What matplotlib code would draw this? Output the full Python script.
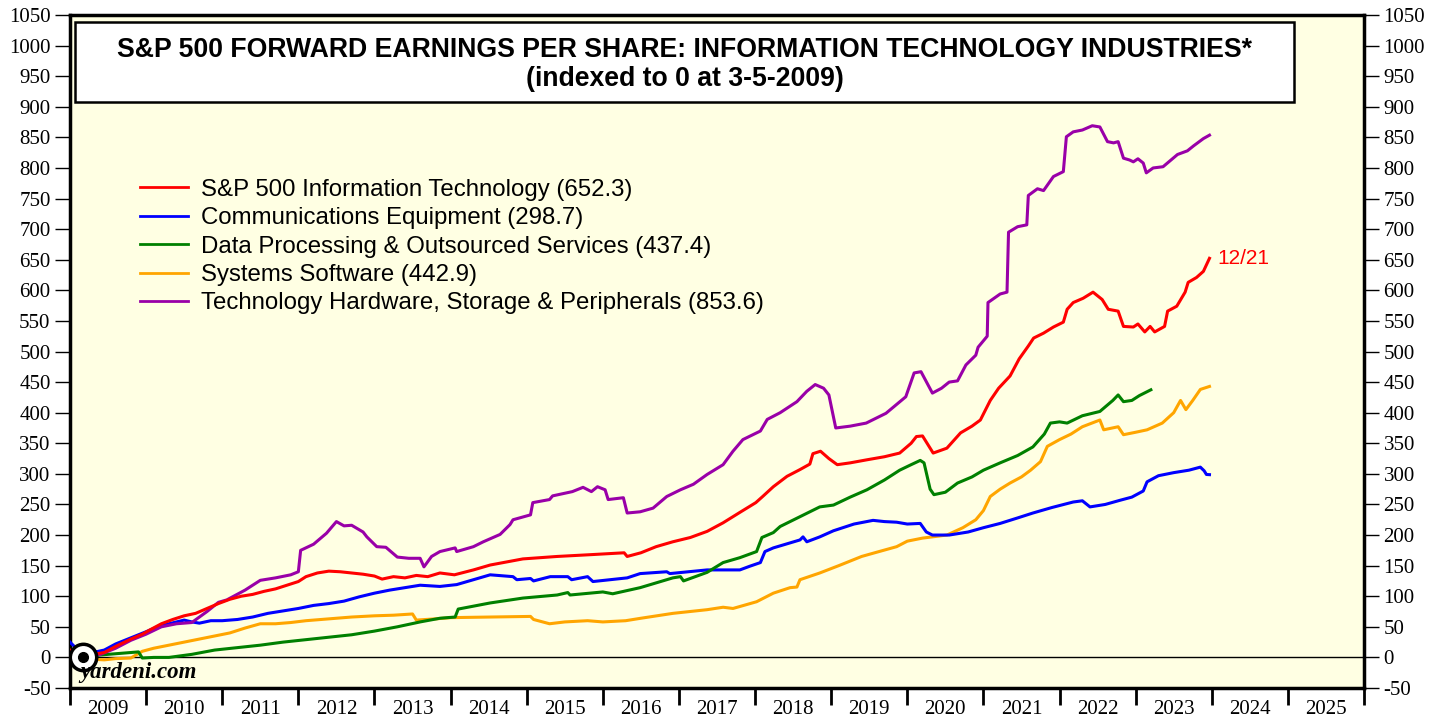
import numpy as np
import matplotlib.pyplot as plt
from matplotlib.patches import Rectangle
from matplotlib.ticker import MultipleLocator, NullFormatter, FixedLocator, FixedFormatter

# data (decimal years, index points)
it_x = [2009.00, 2009.08, 2009.17, 2009.30, 2009.45, 2009.60, 2009.80, 2009.95, 2010.05, 2010.20,
        2010.35, 2010.50, 2010.65, 2010.80, 2010.95, 2011.10, 2011.25, 2011.40, 2011.55, 2011.70,
        2011.85, 2012.00, 2012.10, 2012.25, 2012.40, 2012.55, 2012.70, 2012.85, 2013.00, 2013.10,
        2013.25, 2013.40, 2013.55, 2013.70, 2013.86, 2014.05, 2014.30, 2014.52, 2014.95, 2015.40,
        2015.85, 2016.28, 2016.32, 2016.50, 2016.70, 2016.92, 2017.15, 2017.37, 2017.58, 2017.80,
        2018.01, 2018.10, 2018.24, 2018.42, 2018.59, 2018.72, 2018.76, 2018.86, 2018.97, 2019.08,
        2019.25, 2019.47, 2019.70, 2019.90, 2020.05, 2020.12, 2020.20, 2020.34, 2020.52, 2020.70,
        2020.85, 2020.96, 2021.09, 2021.20, 2021.35, 2021.47, 2021.59, 2021.66, 2021.79, 2021.92,
        2022.05, 2022.10, 2022.18, 2022.31, 2022.44, 2022.56, 2022.64, 2022.77, 2022.84, 2022.97,
        2023.03, 2023.12, 2023.19, 2023.25, 2023.38, 2023.42, 2023.54, 2023.65, 2023.69, 2023.80,
        2023.89, 2023.97]
it_y = [12, 4, 0, 5, 8, 18, 30, 38, 45, 55,
        62, 68, 72, 80, 88, 95, 100, 103, 108, 112,
        118, 124, 132, 138, 141, 140, 138, 136, 133, 128,
        132, 130, 134, 132, 138, 135, 143, 151, 161, 165,
        168, 171, 165, 171, 181, 189, 196, 206, 220, 237,
        253, 263, 279, 296, 307, 316, 333, 337, 325, 315,
        318, 323, 328, 334, 350, 361, 362, 334, 342, 367,
        378, 388, 420, 440, 460, 488, 509, 522, 530, 540,
        548, 569, 580, 587, 597, 585, 569, 566, 541, 540,
        545, 532, 541, 532, 541, 566, 574, 597, 613, 621,
        631, 652.3]

ce_x = [2009.00, 2009.08, 2009.17, 2009.30, 2009.45, 2009.60, 2009.80, 2010.00, 2010.15, 2010.30,
        2010.50, 2010.60, 2010.70, 2010.85, 2011.00, 2011.20, 2011.40, 2011.60, 2011.80, 2012.00,
        2012.20, 2012.40, 2012.60, 2012.80, 2013.00, 2013.20, 2013.40, 2013.60, 2013.86, 2014.08,
        2014.30, 2014.52, 2014.82, 2014.87, 2015.05, 2015.09, 2015.31, 2015.54, 2015.59, 2015.80,
        2015.87, 2016.32, 2016.49, 2016.84, 2016.88, 2017.37, 2017.80, 2017.93, 2018.07, 2018.13,
        2018.24, 2018.59, 2018.63, 2018.68, 2018.85, 2019.03, 2019.30, 2019.55, 2019.70, 2019.86,
        2020.00, 2020.17, 2020.25, 2020.33, 2020.55, 2020.80, 2021.00, 2021.22, 2021.45, 2021.65,
        2021.90, 2022.18, 2022.30, 2022.40, 2022.60, 2022.80, 2022.95, 2023.10, 2023.15, 2023.30,
        2023.50, 2023.70, 2023.85, 2023.90, 2023.93, 2023.97]
ce_y = [25, 15, 0, 8, 12, 22, 32, 42, 50, 55,
        61, 58, 56, 60, 60, 62, 66, 72, 76, 80,
        85, 88, 92, 99, 105, 110, 114, 118, 116, 119,
        127, 135, 132, 127, 129, 125, 132, 132, 127, 132,
        124, 130, 137, 140, 137, 143, 143, 149, 155, 173,
        179, 192, 197, 189, 197, 207, 218, 224, 222, 221,
        218, 219, 205, 200, 200, 205, 212, 219, 228, 236,
        245, 254, 256, 246, 250, 257, 262, 272, 287, 297,
        302, 306, 311, 305, 299, 298.7]

dp_x = [2009.00, 2009.17, 2009.40, 2009.70, 2009.90, 2009.95, 2010.10, 2010.30, 2010.60, 2010.90,
        2011.20, 2011.50, 2011.80, 2012.10, 2012.40, 2012.70, 2013.00, 2013.30, 2013.60, 2013.86,
        2014.06, 2014.10, 2014.52, 2014.95, 2015.40, 2015.54, 2015.57, 2016.00, 2016.13, 2016.49,
        2016.92, 2017.02, 2017.06, 2017.37, 2017.58, 2017.80, 2018.02, 2018.09, 2018.24, 2018.33,
        2018.46, 2018.59, 2018.85, 2019.03, 2019.25, 2019.47, 2019.70, 2019.90, 2020.05, 2020.17,
        2020.22, 2020.30, 2020.35, 2020.50, 2020.66, 2020.85, 2021.00, 2021.22, 2021.45, 2021.65,
        2021.80, 2021.88, 2022.00, 2022.10, 2022.30, 2022.53, 2022.70, 2022.77, 2022.84, 2022.95,
        2023.05, 2023.20]
dp_y = [0, 0, 4, 7, 9, -1, 0, 0, 5, 12,
        16, 20, 25, 29, 33, 37, 43, 50, 58, 64,
        66, 79, 89, 97, 102, 106, 102, 107, 104, 114,
        130, 132, 125, 139, 155, 163, 173, 196, 204, 214,
        222, 230, 246, 249, 262, 274, 290, 306, 315, 322,
        318, 275, 266, 270, 285, 295, 306, 318, 330, 344,
        365, 383, 385, 383, 395, 402, 420, 429, 418, 420,
        428, 437.4]

ss_x = [2009.00, 2009.17, 2009.30, 2009.45, 2009.60, 2009.80, 2009.95, 2010.10, 2010.30, 2010.50,
        2010.70, 2010.90, 2011.10, 2011.30, 2011.50, 2011.70, 2011.90, 2012.10, 2012.40, 2012.70,
        2013.00, 2013.25, 2013.50, 2013.55, 2013.80, 2014.00, 2014.52, 2015.05, 2015.09, 2015.30,
        2015.50, 2015.80, 2016.00, 2016.30, 2016.50, 2016.92, 2017.37, 2017.58, 2017.71, 2018.02,
        2018.24, 2018.46, 2018.55, 2018.59, 2018.85, 2019.10, 2019.40, 2019.60, 2019.86, 2020.00,
        2020.20, 2020.52, 2020.73, 2020.90, 2021.00, 2021.09, 2021.22, 2021.35, 2021.50, 2021.62,
        2021.75, 2021.84, 2022.00, 2022.15, 2022.30, 2022.53, 2022.58, 2022.77, 2022.84, 2023.00,
        2023.15, 2023.35, 2023.50, 2023.59, 2023.66, 2023.75, 2023.85, 2023.97]
ss_y = [0, 0, -3, -4, -2, -1, 10, 15, 20, 25,
        30, 35, 40, 48, 55, 55, 57, 60, 63, 66,
        68, 69, 71, 61, 63, 65, 66, 67, 62, 55,
        58, 60, 58, 60, 64, 72, 78, 82, 80, 91,
        105, 114, 115, 127, 138, 150, 165, 172, 181, 190,
        195, 200, 212, 225, 240, 263, 275, 285, 295, 306,
        320, 345, 356, 365, 377, 388, 372, 377, 364, 368,
        372, 383, 400, 420, 405, 420, 438, 442.9]

hw_x = [2009.00, 2009.17, 2009.40, 2009.60, 2009.80, 2010.00, 2010.20, 2010.40, 2010.60, 2010.80,
        2010.95, 2011.06, 2011.30, 2011.50, 2011.70, 2011.90, 2012.00, 2012.03, 2012.20, 2012.37,
        2012.50, 2012.60, 2012.70, 2012.85, 2012.90, 2013.03, 2013.15, 2013.30, 2013.45, 2013.60,
        2013.65, 2013.75, 2013.86, 2014.06, 2014.08, 2014.30, 2014.43, 2014.65, 2014.78, 2014.82,
        2015.05, 2015.08, 2015.30, 2015.34, 2015.60, 2015.74, 2015.85, 2015.93, 2016.03, 2016.07,
        2016.27, 2016.32, 2016.49, 2016.66, 2016.84, 2017.02, 2017.19, 2017.37, 2017.58, 2017.71,
        2017.84, 2018.07, 2018.16, 2018.33, 2018.55, 2018.68, 2018.79, 2018.90, 2018.97, 2019.06,
        2019.25, 2019.46, 2019.72, 2019.98, 2020.09, 2020.18, 2020.33, 2020.45, 2020.55, 2020.66,
        2020.77, 2020.90, 2020.93, 2021.05, 2021.06, 2021.22, 2021.31, 2021.33, 2021.45, 2021.57,
        2021.59, 2021.71, 2021.79, 2021.92, 2022.05, 2022.09, 2022.18, 2022.30, 2022.43, 2022.53,
        2022.63, 2022.71, 2022.77, 2022.84, 2022.92, 2022.97, 2023.03, 2023.10, 2023.14, 2023.23,
        2023.36, 2023.55, 2023.68, 2023.76, 2023.89, 2023.97]
hw_y = [0, 0, 5, 15, 28, 38, 50, 55, 57, 75,
        90, 94, 110, 126, 130, 135, 140, 175, 185, 203,
        222, 215, 216, 205, 197, 181, 180, 164, 162, 162,
        148, 165, 173, 179, 173, 181, 189, 201, 217, 225,
        233, 253, 258, 264, 271, 278, 271, 279, 274, 258,
        261, 236, 238, 244, 263, 274, 283, 299, 315, 337,
        356, 370, 389, 400, 418, 435, 446, 440, 429, 375,
        378, 383, 399, 426, 465, 467, 432, 440, 450, 452,
        478, 494, 507, 525, 580, 594, 597, 695, 704, 707,
        755, 766, 763, 786, 794, 851, 859, 862, 869, 867,
        843, 841, 843, 816, 813, 810, 815, 808, 792, 800,
        802, 822, 828, 836, 848, 853.6]

labels = ['S&P 500 Information Technology (652.3)',
          'Communications Equipment (298.7)',
          'Data Processing & Outsourced Services (437.4)',
          'Systems Software (442.9)',
          'Technology Hardware, Storage & Peripherals (853.6)']
colors = ['#FF0000', '#0000FF', '#008000', '#FFA500', '#9900A8']
years = list(range(2009, 2026))

plt.rcParams['font.family'] = 'Liberation Sans'
plt.rcParams['axes.unicode_minus'] = False
fig = plt.figure(figsize=(14.46, 7.19), dpi=100)
ax = fig.add_axes([70/1446, 31/719, 1294/1446, 673/719])
ax.set_facecolor('#FFFFE3')

series = [(it_x, it_y), (ce_x, ce_y), (dp_x, dp_y), (ss_x, ss_y), (hw_x, hw_y)]
for (xs, ys), c, lab, z in zip(series, colors, labels, [6, 3, 4, 2, 5]):
    ax.plot(xs, ys, color=c, lw=2.2, label=lab, zorder=z)

ax.axhline(0, color='black', lw=1, zorder=1)

ax.set_xlim(2009, 2026)
ax.set_ylim(-50, 1050)

# y axis both sides
ax.yaxis.set_major_locator(MultipleLocator(50))
ax.tick_params(axis='y', which='major', direction='out', length=11, width=1,
               left=True, right=True, labelleft=True, labelright=True, pad=3, labelsize=15)
for t in ax.yaxis.get_majorticklabels():
    t.set_family('Liberation Serif')

# x axis: year boundaries as ticks, labels centred in each year
ax.xaxis.set_major_locator(FixedLocator(list(range(2009, 2027))))
ax.xaxis.set_major_formatter(NullFormatter())
ax.xaxis.set_minor_locator(FixedLocator([y + 0.5 for y in years]))
ax.xaxis.set_minor_formatter(FixedFormatter([str(y) for y in years]))
ax.tick_params(axis='x', which='major', direction='out', length=12, width=2)
ax.tick_params(axis='x', which='minor', length=0, pad=9, labelsize=15)
for t in ax.get_xticklabels(minor=True):
    t.set_family('Liberation Serif')

for s in ax.spines.values():
    s.set_linewidth(2.5)

# title box
ax.add_patch(Rectangle((0.004, 0.871), 0.942, 0.119, transform=ax.transAxes,
                       facecolor='white', edgecolor='black', lw=1.8, zorder=7))
ax.text(0.475, 0.948, 'S&P 500 FORWARD EARNINGS PER SHARE: INFORMATION TECHNOLOGY INDUSTRIES*',
        transform=ax.transAxes, ha='center', va='center', fontsize=19.2, fontweight='bold', zorder=8)
ax.text(0.475, 0.905, '(indexed to 0 at 3-5-2009)', transform=ax.transAxes,
        ha='center', va='center', fontsize=19.2, fontweight='bold', zorder=8)

leg = ax.legend(loc='upper left', bbox_to_anchor=(0.054, 0.757), frameon=False,
                fontsize=17.3, handlelength=2.0, handletextpad=0.55, labelspacing=0.27,
                borderpad=0, borderaxespad=0)
for h in leg.get_lines():
    h.set_linewidth(2)

# last-date label
ax.annotate('12/21', (it_x[-1], it_y[-1]), xytext=(6, 0), textcoords='offset points',
            color='#FF0000', fontsize=15, va='center', ha='left')

# index-date marker
ax.plot([2009.17], [0], 'o', ms=19, mfc='white', mec='black', mew=2.5, zorder=9)
ax.plot([2009.17], [0], 'o', ms=7, color='black', zorder=10)

ax.text(2009.13, -25, 'yardeni.com', family='Liberation Serif', fontsize=16.5,
        fontweight='bold', style='italic', va='center', ha='left', zorder=9)

fig.savefig('out.png', dpi=100)
